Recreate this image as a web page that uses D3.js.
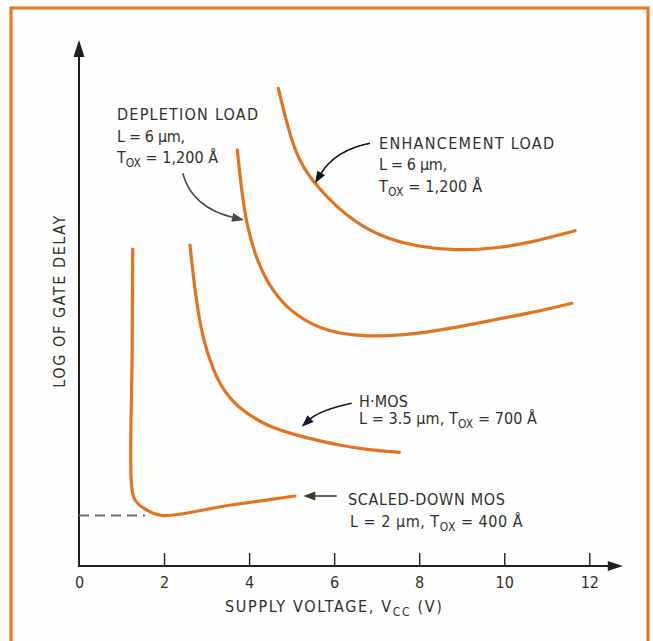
<!DOCTYPE html>
<html><head><meta charset="utf-8">
<script src="https://cdn.jsdelivr.net/npm/d3@7"></script>
<style>
html,body{margin:0;padding:0;background:#fff;}
svg{display:block;}
text{font-family:"Liberation Sans Narrow","DejaVu Sans Condensed","Liberation Sans",Arial,sans-serif;fill:#2f312a;}
</style></head><body>
<svg id="chart" width="653" height="641"></svg>
<script>
// ---------- DATA (x = supply voltage V, y = log of gate delay, arbitrary units) ----------
const xTicks = [0, 2, 4, 6, 8, 10, 12];

const enhancementX = [4.687, 4.93, 5.17, 5.573, 6.295, 7.078, 7.941, 8.881, 9.822, 10.605, 11.664];
const enhancementY = [9.554, 8.70, 8.10, 7.60, 6.986, 6.586, 6.386, 6.306, 6.354, 6.466, 6.706];

const depletionX = [3.723, 3.83, 3.95, 4.179, 4.569, 5.119, 5.825, 6.686, 7.626, 8.647, 9.822, 10.763, 11.586];
const depletionY = [8.32, 7.45, 6.80, 6.10, 5.454, 4.986, 4.686, 4.586, 4.61, 4.734, 4.934, 5.086, 5.254];

const hmosX = [2.610, 2.70, 2.82, 2.99, 3.316, 3.708, 4.414, 5.237, 6.060, 6.843, 7.532];
const hmosY = [6.42, 5.70, 4.95, 4.30, 3.586, 3.186, 2.786, 2.586, 2.42, 2.32, 2.274];

const scaledX = [1.263, 1.250, 1.239, 1.317, 1.592, 1.945, 3.50, 5.079];
const scaledY = [6.34, 4.30, 1.586, 1.32, 1.12, 1.01, 1.21, 1.40];

const dashedX = [0, 1.55];
const dashedY = [1.01, 1.01];

// ---------- LAYOUT ----------
const svg = d3.select("#chart");
const W = 653, H = 641;
const x = d3.scaleLinear().domain([0, 12]).range([79, 589.3]);
const y = d3.scaleLinear().domain([0, 10]).range([566, 66]);

const ORANGE = "#e2731f";
const AXIS = "#1f1f1f";

svg.append("rect").attr("x", 0).attr("y", 0).attr("width", W).attr("height", H).attr("fill", "#fefefe");
svg.append("rect").attr("x", 11).attr("y", 8).attr("width", 637).attr("height", 650)
  .attr("fill", "none").attr("stroke", "#e47b2c").attr("stroke-width", 3.2);

// axes
const xEnd = x(12) + 33.5, yTop = y(10.52);
svg.append("line").attr("x1", x(0)).attr("y1", y(0)).attr("x2", xEnd - 12).attr("y2", y(0))
  .attr("stroke", AXIS).attr("stroke-width", 2);
svg.append("path").attr("d", `M${xEnd},${y(0)} L${xEnd - 15},${y(0) - 5} L${xEnd - 15},${y(0) + 5} Z`).attr("fill", AXIS);
svg.append("line").attr("x1", x(0)).attr("y1", y(0) + 1).attr("x2", x(0)).attr("y2", yTop + 12)
  .attr("stroke", AXIS).attr("stroke-width", 2);
svg.append("path").attr("d", `M${x(0)},${yTop} L${x(0) - 5.5},${yTop + 17} L${x(0) + 5.5},${yTop + 17} Z`).attr("fill", AXIS);

const gx = svg.append("g").attr("transform", `translate(0,${y(0)})`)
  .call(d3.axisBottom(x).tickValues(xTicks).tickSize(-13).tickFormat(d3.format("d")));
gx.select(".domain").remove();
gx.selectAll(".tick line").attr("stroke", AXIS).attr("stroke-width", 1.4).filter(d => d === 0).remove();
gx.selectAll(".tick text").attr("y", 22).attr("dy", null).attr("font-size", 16);

// dashed reference line
const line = d3.line().x((d) => x(d[0])).y((d) => y(d[1]));
svg.append("path").datum(d3.zip(dashedX, dashedY)).attr("d", line)
  .attr("fill", "none").attr("stroke", "#6d6f5a").attr("stroke-width", 2).attr("stroke-dasharray", "10,6");

// curves
const smooth = d3.line().x(d => x(d[0])).y(d => y(d[1])).curve(d3.curveBasis);
const corner = d3.line().x(d => x(d[0])).y(d => y(d[1])).curve(d3.curveCatmullRom.alpha(0.5));
[[enhancementX, enhancementY, smooth], [depletionX, depletionY, smooth], [hmosX, hmosY, smooth], [scaledX, scaledY, corner]].forEach(([xs, ys, gen]) => {
  svg.append("path").datum(d3.zip(xs, ys)).attr("d", gen)
    .attr("fill", "none").attr("stroke", ORANGE).attr("stroke-width", 3.2)
    .attr("stroke-linecap", "round").attr("stroke-linejoin", "round");
});

// annotation arrows (start, control, tip in data units)
function arrow(s, c, t, color) {
  const sx = x(s[0]), sy = y(s[1]), cx = x(c[0]), cy = y(c[1]), tx = x(t[0]), ty = y(t[1]);
  const dx = tx - cx, dy = ty - cy, len = Math.hypot(dx, dy);
  const ux = dx / len, uy = dy / len, L = 12, hw = 4.5;
  const bx = tx - ux * L, by = ty - uy * L;
  svg.append("path").attr("d", `M${sx},${sy} Q${cx},${cy} ${bx + ux * 2},${by + uy * 2}`)
    .attr("fill", "none").attr("stroke", color).attr("stroke-width", 1.6);
  svg.append("path").attr("d", `M${tx},${ty} L${bx - uy * hw},${by + ux * hw} L${bx + uy * hw},${by - ux * hw} Z`).attr("fill", color);
}
arrow([6.843, 8.454], [6.02, 8.32], [5.55, 7.654], "#111");
arrow([2.439, 7.854], [2.657, 7.16], [3.88, 6.92], "#4a4a44");
arrow([6.413, 3.254], [5.667, 3.12], [5.237, 2.786], "#151a28");
arrow([6.06, 1.40], [5.7, 1.40], [5.275, 1.40], "#34402a");

// text labels
function label(px, py, parts, width, opts = {}) {
  const t = svg.append("text").attr("x", px).attr("y", py).attr("font-size", 16);
  let shifted = false;
  parts.forEach(p => {
    if (typeof p === "string") {
      const s = t.append("tspan").text(p);
      if (shifted) { s.attr("dy", -4); shifted = false; }
    } else {
      t.append("tspan").attr("dy", 4).attr("font-size", 12).text(p.sub);
      shifted = true;
    }
  });
  if (opts.transform) t.attr("transform", opts.transform);
  if (opts.anchor) t.attr("text-anchor", opts.anchor);
  const nat = t.node().getComputedTextLength();
  const n = t.text().length;
  if (width && n > 1) t.style("letter-spacing", ((width - nat) / (n - 1)) + "px");
  return t;
}
label(117, 120, ["DEPLETION LOAD"], 141);
label(117, 141.5, ["L = 6 \u03bcm,"], 68);
label(117, 163, ["T", {sub: "OX"}, " = 1,200 \u00c5"], 101);

label(379, 149, ["ENHANCEMENT LOAD"], 175);
label(379, 170, ["L = 6 \u03bcm,"], 68);
label(379, 191.5, ["T", {sub: "OX"}, " = 1,200 \u00c5"], 103);

label(359, 406.5, ["H\u00b7MOS"], 49);
label(359, 424, ["L = 3.5 \u03bcm,  T", {sub: "OX"}, " = 700 \u00c5"], 178);

label(348, 505, ["SCALED-DOWN MOS"], 157);
label(350, 526.5, ["L = 2 \u03bcm,  T", {sub: "OX"}, " = 400 \u00c5"], 173);

label(225, 611.5, ["SUPPLY VOLTAGE, V", {sub: "CC"}, " (V)"], 217);
label(0, 0, ["LOG OF GATE DELAY"], 172, {transform: "translate(65,301) rotate(-90)", anchor: "middle"});
</script>
</body></html>
